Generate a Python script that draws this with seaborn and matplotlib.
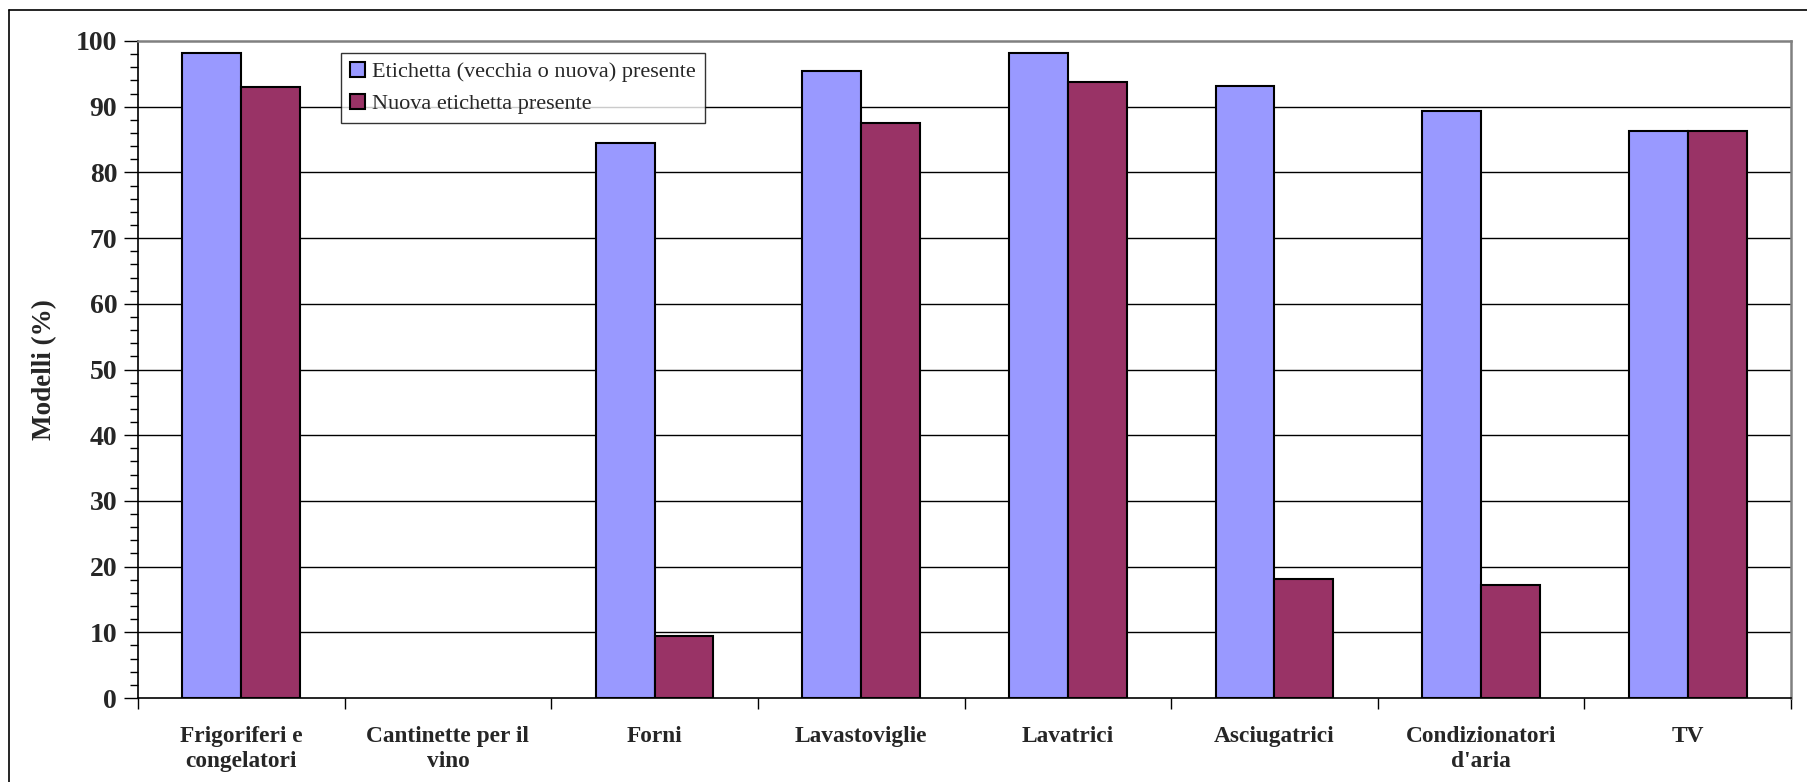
import numpy as np
import pandas as pd
import matplotlib
matplotlib.use("Agg")
import matplotlib.pyplot as plt
from matplotlib.lines import Line2D
from matplotlib.ticker import MultipleLocator, FixedLocator
import seaborn as sns

categories = ["Frigoriferi e\ncongelatori", "Cantinette per il\nvino", "Forni",
              "Lavastoviglie", "Lavatrici", "Asciugatrici",
              "Condizionatori\nd'aria", "TV"]
series_names = ["Etichetta (vecchia o nuova) presente", "Nuova etichetta presente"]
etichetta_presente = [98.2, np.nan, 84.4, 95.4, 98.1, 93.2, 89.3, 86.3]
nuova_etichetta = [93.0, np.nan, 9.4, 87.5, 93.7, 18.1, 17.2, 86.3]
colors = ["#9999FF", "#993366"]

df = pd.DataFrame({
    "categoria": categories * 2,
    "serie": [series_names[0]] * len(categories) + [series_names[1]] * len(categories),
    "valore": etichetta_presente + nuova_etichetta,
})

sns.set_theme(style="white")
plt.rcParams["font.family"] = ["Liberation Serif", "DejaVu Serif"]

W, H = 1807, 782
fig = plt.figure(figsize=(W / 100, H / 100), dpi=100)
ax = fig.add_axes([138 / W, 1 - 698 / H, (1791 - 138) / W, (698 - 41) / H])

sns.barplot(data=df, x="categoria", y="valore", hue="serie", order=categories,
            hue_order=series_names, palette=colors, width=0.57, saturation=1,
            edgecolor="black", linewidth=1.5, ax=ax, legend=True)

ax.set_ylim(0, 100)
ax.set_xlim(-0.5, len(categories) - 0.5)
ax.yaxis.set_major_locator(MultipleLocator(10))
ax.yaxis.set_minor_locator(MultipleLocator(2))
ax.grid(False)
ax.set_axisbelow(True)
for v in range(10, 100, 10):
    ax.axhline(v, color="black", lw=1.0, zorder=0)

for side in ["left", "bottom"]:
    ax.spines[side].set_color("black")
    ax.spines[side].set_linewidth(1.2)
for side in ["top", "right"]:
    ax.spines[side].set_color("#808080")
    ax.spines[side].set_linewidth(1.8)

ax.tick_params(axis="y", which="major", direction="out", length=10, width=1,
               color="black", left=True, pad=5, labelsize=20)
ax.tick_params(axis="y", which="minor", direction="out", length=6, width=1,
               color="black", left=True)
for lab in ax.get_yticklabels():
    lab.set_fontweight("bold")

ax.xaxis.set_minor_locator(FixedLocator(np.arange(len(categories) + 1) - 0.5))
ax.tick_params(axis="x", which="major", length=0, pad=20, labelsize=16.8)
ax.tick_params(axis="x", which="minor", direction="out", length=8, width=1,
               color="black", bottom=True)
for lab in ax.get_xticklabels():
    lab.set_fontweight("bold")
    lab.set_linespacing(1.25)
    lab.set_verticalalignment("top")

ax.set_xlabel("")
ax.set_ylabel("Modelli (%)", fontsize=19.5, fontweight="bold")
ax.yaxis.set_label_coords((57 - 138) / (1791 - 138), 0.5)

handles = [plt.Rectangle((0, 0), 1, 1, facecolor=c, edgecolor="black", linewidth=1.5)
           for c in colors]
leg = ax.legend(handles, series_names, loc="upper left",
                bbox_to_anchor=((341 - 138) / (1791 - 138), (698 - 53) / (698 - 41)),
                fontsize=16, frameon=True, fancybox=False, shadow=False,
                handlelength=0.7, handleheight=0.7, handletextpad=0.3,
                borderpad=0.4, labelspacing=0.5, borderaxespad=0)
leg.get_frame().set_edgecolor("black")
leg.get_frame().set_linewidth(1.0)

# outer chart border (left and top edges)
fig.add_artist(Line2D([9 / W, 9 / W], [0, 1 - 10 / H], transform=fig.transFigure,
                      color="black", lw=1.2))
fig.add_artist(Line2D([9 / W, 1], [1 - 10 / H, 1 - 10 / H], transform=fig.transFigure,
                      color="black", lw=1.2))

fig.savefig("out.png", dpi=100, facecolor="white")
